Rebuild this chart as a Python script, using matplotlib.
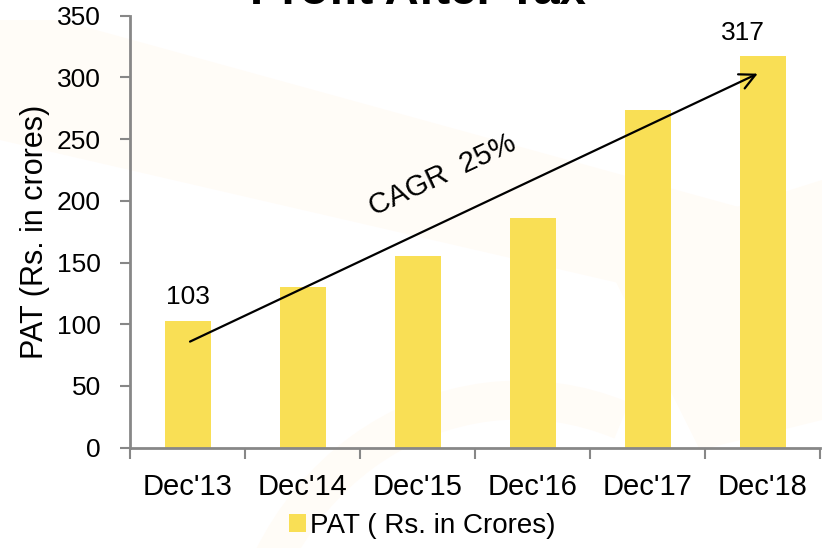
import numpy as np
import matplotlib
matplotlib.use("Agg")
import matplotlib.pyplot as plt
from matplotlib.patches import Polygon, Arc

plt.rcParams['font.family'] = ['Liberation Sans', 'DejaVu Sans']

# data
years  = ["Dec'13", "Dec'14", "Dec'15", "Dec'16", "Dec'17", "Dec'18"]
pat    = [103, 130, 155, 186, 274, 317]
shown  = {0: "103", 5: "317"}   # only first and last bars carry a value label
cagr   = "CAGR  25%"

BAR_COL  = "#F9DF55"
AXIS_COL = "#878787"
WM_COL   = "#FFFCF7"

fig = plt.figure(figsize=(8.22, 5.48), dpi=100)

# faint watermark shapes behind the chart
bg = fig.add_axes([0, 0, 1, 1], zorder=-1)
bg.set_xlim(0, 822); bg.set_ylim(548, 0); bg.axis("off")
bg.add_patch(Polygon([(0, 20), (60, 20), (822, 230), (822, 330), (0, 140)],
                     closed=True, color=WM_COL, lw=0))
bg.add_patch(Arc((520, 700), 560, 600, theta1=180, theta2=290,
                 color=WM_COL, lw=28))
bg.add_patch(Polygon([(600, 250), (822, 180), (822, 420), (700, 450)],
                     closed=True, color=WM_COL, lw=0))

ax = fig.add_axes([130/822, 1 - 447.7/548, 690/822, 432/548])
ax.patch.set_alpha(0)

x = np.arange(len(years))
ax.bar(x, pat, width=0.4, color=BAR_COL, label="PAT ( Rs. in Crores)", zorder=2)

for i, txt in shown.items():
    dx = -0.17 if i == len(years) - 1 else 0
    ax.text(x[i] + dx, pat[i] + 9, txt, ha="center", va="bottom", fontsize=19)

# CAGR arrow
ax.annotate("", xy=(4.98, 304), xytext=(0, 85),
            arrowprops=dict(arrowstyle="->", color="black", lw=1.6,
                            mutation_scale=28), zorder=3)
ax.text(2.22, 221, cagr, rotation=25, ha="center", va="center", fontsize=21,
        rotation_mode="anchor")

ax.set_xlim(-0.5, 5.5)
ax.set_ylim(0, 350)
ax.set_yticks(np.arange(0, 351, 50))
ax.set_xticks(x)
ax.set_xticklabels(years, fontsize=21)
ax.set_xticks(np.arange(-0.5, 5.6, 1), minor=True)
ax.tick_params(axis="x", which="major", length=0, pad=18)
ax.tick_params(axis="x", which="minor", length=8, width=1.5, color=AXIS_COL, direction="out")
ax.tick_params(axis="y", length=7, width=1.5, color=AXIS_COL, labelsize=19, pad=14)
ax.set_ylabel("PAT (Rs. in crores)", fontsize=22, labelpad=5)

for s in ["top", "right"]:
    ax.spines[s].set_visible(False)
for s in ["left", "bottom"]:
    ax.spines[s].set_color(AXIS_COL)
    ax.spines[s].set_linewidth(2)

fig.text(418/822, 1 - 3.5/548, "Profit After Tax", ha="center", va="baseline",
         fontsize=34, fontweight="bold")

fig.legend(loc="center", bbox_to_anchor=(422/822, 1 - 526/548), frameon=False,
           fontsize=20, handlelength=0.6, handleheight=0.6, handletextpad=0.15)

fig.savefig("out.png", dpi=100)
